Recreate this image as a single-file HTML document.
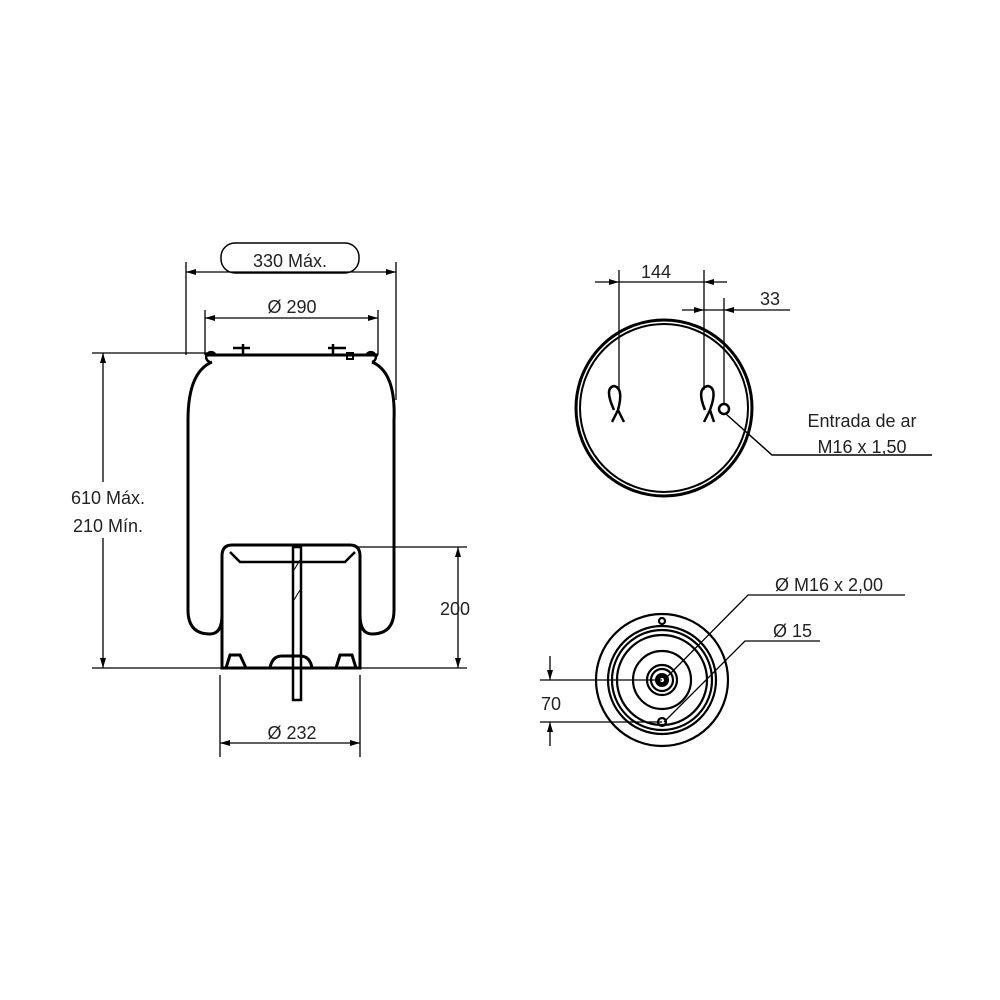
<!DOCTYPE html>
<html><head><style>body{margin:0;background:#fff}svg{display:block}text{font-family:"Liberation Sans",sans-serif;font-size:18px;fill:#222}</style></head><body>
<svg width="1000" height="1000" viewBox="0 0 1000 1000">
<defs><marker id="a" viewBox="0 0 10 6" refX="10" refY="3" markerWidth="14" markerHeight="6" markerUnits="userSpaceOnUse" orient="auto-start-reverse"><path d="M0,0L10,3L0,6z" fill="#000"/></marker></defs>
<g stroke="#000" fill="none" stroke-width="1.3">
<line x1="186" y1="262" x2="186" y2="355"/><line x1="396" y1="262" x2="396" y2="400"/>
<line x1="205" y1="310" x2="205" y2="355"/><line x1="378" y1="310" x2="378" y2="355"/>
<line x1="92" y1="353" x2="210" y2="353"/><line x1="92" y1="668" x2="222" y2="668"/>
<line x1="355" y1="547" x2="467" y2="547"/><line x1="360" y1="668" x2="467" y2="668"/>
<line x1="220" y1="675" x2="220" y2="757"/><line x1="360" y1="675" x2="360" y2="757"/>
<line x1="186" y1="272" x2="396" y2="272" marker-start="url(#a)" marker-end="url(#a)"/>
<line x1="205" y1="318" x2="378" y2="318" marker-start="url(#a)" marker-end="url(#a)"/>
<line x1="103" y1="353" x2="103" y2="668" marker-start="url(#a)" marker-end="url(#a)"/>
<line x1="458" y1="547" x2="458" y2="668" marker-start="url(#a)" marker-end="url(#a)"/>
<line x1="220" y1="743" x2="360" y2="743" marker-start="url(#a)" marker-end="url(#a)"/>
<rect x="221" y="243" width="138" height="30" rx="14" stroke-width="1.5"/>
</g>
<rect x="55" y="482" width="110" height="56" fill="#fff"/>
<g stroke="#000" fill="none" stroke-width="3">
<path d="M212,362 Q188,372 188,420 L188,610 Q188,634 210,634 Q222,634 222,615"/>
<path d="M372,362 Q396,372 394,420 L394,610 Q394,634 372,634 Q360,634 360,615"/>
<line x1="205" y1="355" x2="378" y2="355"/>
<path d="M222,668 L222,556 Q222,545 232,545 L350,545 Q360,545 360,556 L360,668 Z"/>
<path d="M226,668 L230,655 L240,655 L246,668 M270,668 Q272,656 282,656 L300,656 Q310,656 312,668 M336,668 L340,655 L352,655 L356,668"/>
<path d="M230,552 L240,562 L345,562 L355,552" stroke-width="2.5"/>
<rect x="293" y="547" width="8" height="153" stroke-width="2.5"/>
<path d="M210,362 a5,5 0 1,1 6,-6 M372,362 a5,5 0 1,0 -6,-6" stroke-width="2.5"/>
<path d="M233,348 L250,348 M243,344 L243,355 M328,348 L346,348 M333,344 L333,355" stroke-width="2.5"/>
<rect x="347" y="353" width="6" height="6" stroke-width="2"/>
</g>
<line x1="294" y1="570" x2="300" y2="560" stroke="#000"/><line x1="294" y1="600" x2="300" y2="590" stroke="#000"/>
<text x="290" y="267" text-anchor="middle">330 Máx.</text>
<text x="292" y="313" text-anchor="middle">Ø 290</text>
<text x="108" y="504" text-anchor="middle">610 Máx.</text>
<text x="108" y="532" text-anchor="middle">210 Mín.</text>
<text x="455" y="615" text-anchor="middle">200</text>
<text x="292" y="739" text-anchor="middle">Ø 232</text>
<g stroke="#000" fill="none" stroke-width="1.3">
<circle cx="664" cy="408" r="88" stroke-width="3"/><circle cx="664" cy="408" r="84" stroke-width="2"/>
<line x1="619" y1="270" x2="619" y2="390"/><line x1="704" y1="270" x2="704" y2="390"/><line x1="724" y1="298" x2="724" y2="405"/>
<line x1="595" y1="282" x2="619" y2="282" marker-end="url(#a)"/><line x1="619" y1="282" x2="704" y2="282"/><line x1="727" y1="282" x2="704" y2="282" marker-end="url(#a)"/>
<line x1="682" y1="310" x2="704" y2="310" marker-end="url(#a)"/><line x1="704" y1="310" x2="724" y2="310"/><line x1="790" y1="310" x2="724" y2="310" marker-end="url(#a)"/>
<path d="M726,414 L772,455 L932,455" stroke-width="1.5"/>
</g>
<g stroke="#000" fill="none" stroke-width="2.5">
<path d="M614,410 Q604,388 614,386 Q624,388 618,410 L612,422 M618,410 L624,422"/>
<path d="M705,410 Q696,388 708,386 Q718,388 710,410 L704,422 M710,410 L714,422"/>
<circle cx="724" cy="409" r="5"/>
</g>
<text x="641" y="278">144</text>
<text x="760" y="305">33</text>
<text x="862" y="427" text-anchor="middle">Entrada de ar</text>
<text x="862" y="453" text-anchor="middle">M16 x 1,50</text>
<g stroke="#000" fill="none" stroke-width="2.2">
<circle cx="662" cy="680" r="66"/><circle cx="662" cy="680" r="54"/><circle cx="662" cy="680" r="50"/><circle cx="662" cy="680" r="45"/>
<circle cx="662" cy="680" r="29"/><circle cx="662" cy="680" r="15"/><circle cx="662" cy="680" r="11"/>
<circle cx="662" cy="621" r="3"/><circle cx="662" cy="722" r="4"/>
</g>
<circle cx="662" cy="680" r="7" fill="#000"/><circle cx="662" cy="680" r="2" fill="#fff"/>
<g stroke="#000" fill="none" stroke-width="1.3">
<path d="M664,680 L748,595 L905,595"/><path d="M664,722 L745,641 L820,641"/>
<line x1="540" y1="680" x2="662" y2="680"/><line x1="540" y1="722" x2="662" y2="722"/>
<line x1="550" y1="656" x2="550" y2="680" marker-end="url(#a)"/><line x1="550" y1="746" x2="550" y2="722" marker-end="url(#a)"/>
</g>
<text x="775" y="591">Ø M16 x 2,00</text>
<text x="773" y="637">Ø 15</text>
<text x="551" y="710" text-anchor="middle">70</text>
</svg>
</body></html>
